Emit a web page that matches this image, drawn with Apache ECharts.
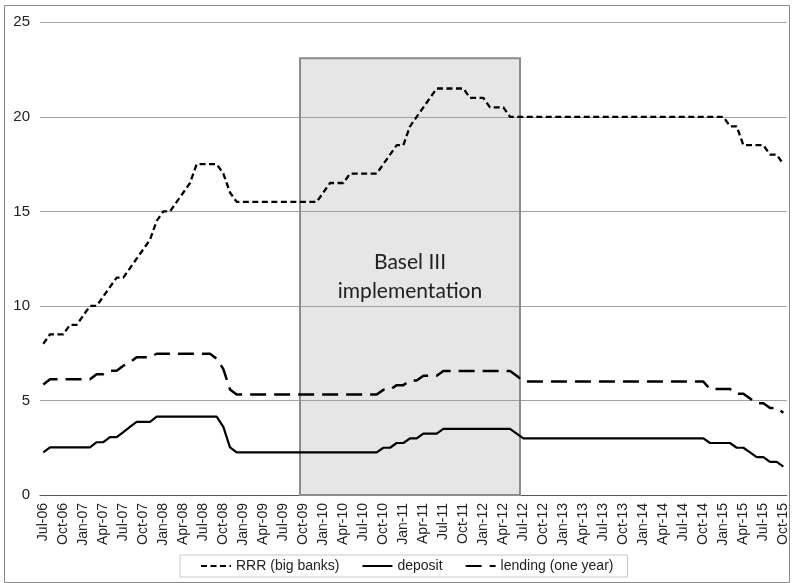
<!DOCTYPE html>
<html>
<head>
<meta charset="utf-8">
<script src="https://cdn.jsdelivr.net/npm/echarts@6/dist/echarts.min.js"></script>
<style>
  html, body { margin: 0; padding: 0; background: #fff; }
  #chart { width: 792px; height: 583px; }
</style>
</head>
<body>
<div id="chart"></div>
<script>
// Month categories Jul-06 .. Oct-15 (monthly)
const monthNames = ['Jan','Feb','Mar','Apr','May','Jun','Jul','Aug','Sep','Oct','Nov','Dec'];
const categories = [];
for (let k = 0; k < 112; k++) {
  const m = (6 + k) % 12;
  const y = 2006 + Math.floor((6 + k) / 12);
  categories.push(monthNames[m] + '-' + String(y).slice(2));
}

// Reserve requirement ratio, big banks (%)
const rrr = [
  8, 8.5, 8.5, 8.5, 9, 9,                                         // 2006 Jul-Dec
  9.5, 10, 10, 10.5, 11, 11.5, 11.5, 12, 12.5, 13, 13.5, 14.5,    // 2007
  15, 15, 15.5, 16, 16.5, 17.5, 17.5, 17.5, 17.5, 17, 16, 15.5,   // 2008
  15.5, 15.5, 15.5, 15.5, 15.5, 15.5, 15.5, 15.5, 15.5, 15.5, 15.5, 15.5, // 2009
  16, 16.5, 16.5, 16.5, 17, 17, 17, 17, 17, 17.5, 18, 18.5,       // 2010
  18.5, 19.5, 20, 20.5, 21, 21.5, 21.5, 21.5, 21.5, 21.5, 21, 21, // 2011
  21, 20.5, 20.5, 20.5, 20, 20, 20, 20, 20, 20, 20, 20,           // 2012
  20, 20, 20, 20, 20, 20, 20, 20, 20, 20, 20, 20,                 // 2013
  20, 20, 20, 20, 20, 20, 20, 20, 20, 20, 20, 20,                 // 2014
  20, 19.5, 19.5, 18.5, 18.5, 18.5, 18.5, 18, 18, 17.5            // 2015 Jan-Oct
];

// One-year deposit rate (%)
const deposit = [
  2.25, 2.52, 2.52, 2.52, 2.52, 2.52,
  2.52, 2.52, 2.79, 2.79, 3.06, 3.06, 3.33, 3.60, 3.87, 3.87, 3.87, 4.14,
  4.14, 4.14, 4.14, 4.14, 4.14, 4.14, 4.14, 4.14, 4.14, 3.60, 2.52, 2.25,
  2.25, 2.25, 2.25, 2.25, 2.25, 2.25, 2.25, 2.25, 2.25, 2.25, 2.25, 2.25,
  2.25, 2.25, 2.25, 2.25, 2.25, 2.25, 2.25, 2.25, 2.25, 2.50, 2.50, 2.75,
  2.75, 3.00, 3.00, 3.25, 3.25, 3.25, 3.50, 3.50, 3.50, 3.50, 3.50, 3.50,
  3.50, 3.50, 3.50, 3.50, 3.50, 3.25, 3.00, 3.00, 3.00, 3.00, 3.00, 3.00,
  3.00, 3.00, 3.00, 3.00, 3.00, 3.00, 3.00, 3.00, 3.00, 3.00, 3.00, 3.00,
  3.00, 3.00, 3.00, 3.00, 3.00, 3.00, 3.00, 3.00, 3.00, 3.00, 2.75, 2.75,
  2.75, 2.75, 2.50, 2.50, 2.25, 2.00, 2.00, 1.75, 1.75, 1.50
];

// One-year lending rate (%)
const lending = [
  5.85, 6.12, 6.12, 6.12, 6.12, 6.12,
  6.12, 6.12, 6.39, 6.39, 6.57, 6.57, 6.84, 7.02, 7.29, 7.29, 7.29, 7.47,
  7.47, 7.47, 7.47, 7.47, 7.47, 7.47, 7.47, 7.47, 7.20, 6.66, 5.58, 5.31,
  5.31, 5.31, 5.31, 5.31, 5.31, 5.31, 5.31, 5.31, 5.31, 5.31, 5.31, 5.31,
  5.31, 5.31, 5.31, 5.31, 5.31, 5.31, 5.31, 5.31, 5.31, 5.56, 5.56, 5.81,
  5.81, 6.06, 6.06, 6.31, 6.31, 6.31, 6.56, 6.56, 6.56, 6.56, 6.56, 6.56,
  6.56, 6.56, 6.56, 6.56, 6.56, 6.31, 6.00, 6.00, 6.00, 6.00, 6.00, 6.00,
  6.00, 6.00, 6.00, 6.00, 6.00, 6.00, 6.00, 6.00, 6.00, 6.00, 6.00, 6.00,
  6.00, 6.00, 6.00, 6.00, 6.00, 6.00, 6.00, 6.00, 6.00, 6.00, 5.60, 5.60,
  5.60, 5.60, 5.35, 5.35, 5.10, 4.85, 4.85, 4.60, 4.60, 4.35
];

const seriesNames = ['RRR (big banks)', 'deposit', 'lending (one year)'];
const yTicks = [0, 5, 10, 15, 20, 25];

// Shaded Basel III period
const baselSpan = ['Oct-09', 'Jul-12'];
const baselTop = 23.1;
const baselLabel = 'Basel III\nimplementation';

const chart = echarts.init(document.getElementById('chart'), null, { renderer: 'canvas' });

const font = '"Liberation Sans", Arial, sans-serif';

chart.setOption({
  animation: false,
  backgroundColor: '#fff',
  graphic: [{
    type: 'rect',
    silent: true,
    shape: { x: 4.5, y: 5.5, width: 785, height: 577 },
    style: { fill: 'none', stroke: '#8a8a8a', lineWidth: 1 }
  }],
  grid: { left: 40, right: 5.3, top: 22.3, bottom: 88, containLabel: false },
  legend: {
    data: seriesNames,
    left: 180,
    top: 555,
    padding: [4, 14, 4, 20],
    itemGap: 22,
    itemWidth: 30,
    itemHeight: 12,
    borderColor: '#c8c8c8',
    borderWidth: 1,
    itemStyle: { opacity: 0 },
    textStyle: { fontSize: 14, color: '#222', fontFamily: font }
  },
  xAxis: [{
    type: 'category',
    data: categories,
    boundaryGap: true,
    axisLine: { lineStyle: { color: '#555', width: 1 } },
    axisTick: { interval: 2, length: 5, lineStyle: { color: '#555' } },
    axisLabel: {
      interval: 2, rotate: 90, margin: 8,
      fontSize: 14, color: '#222', fontFamily: font
    },
    splitLine: { show: false }
  }, {
    type: 'value',
    min: 0,
    max: categories.length,
    show: false
  }],
  yAxis: {
    type: 'value',
    min: yTicks[0],
    max: yTicks[yTicks.length - 1],
    interval: 5,
    axisLine: { show: false },
    axisTick: { show: false },
    axisLabel: { fontSize: 15, color: '#222', margin: 10, fontFamily: font },
    splitLine: { lineStyle: { color: '#a3a3a3', width: 1 } }
  },
  series: [{
    type: 'line',
    xAxisIndex: 1,
    data: [],
    z: 1,
    silent: true,
    markArea: {
      silent: true,
      itemStyle: {
        color: 'rgba(150,150,150,0.24)',
        borderColor: '#8c8c8c',
        borderWidth: 2
      },
      label: {
        show: true,
        position: 'inside',
        formatter: baselLabel,
        fontSize: 21,
        lineHeight: 29,
        color: '#222',
        fontFamily: 'Lato, "Open Sans", sans-serif'
      },
      data: [[
        { xAxis: categories.indexOf(baselSpan[0]), yAxis: 0 },
        { xAxis: categories.indexOf(baselSpan[1]), yAxis: baselTop }
      ]]
    }
  }, {
    name: seriesNames[0],
    type: 'line',
    data: rrr,
    z: 3,
    symbol: 'none',
    showSymbol: false,
    lineStyle: { color: '#000', width: 2.3, type: [6, 3.5] },
    itemStyle: { color: '#000' }
  }, {
    name: seriesNames[1],
    type: 'line',
    data: deposit,
    z: 3,
    symbol: 'none',
    showSymbol: false,
    lineStyle: { color: '#000', width: 2.2, type: 'solid' },
    itemStyle: { color: '#000' }
  }, {
    name: seriesNames[2],
    type: 'line',
    data: lending,
    z: 3,
    symbol: 'none',
    showSymbol: false,
    lineStyle: { color: '#000', width: 2.5, type: [16, 8] },
    itemStyle: { color: '#000' }
  }]
});
</script>
</body>
</html>
